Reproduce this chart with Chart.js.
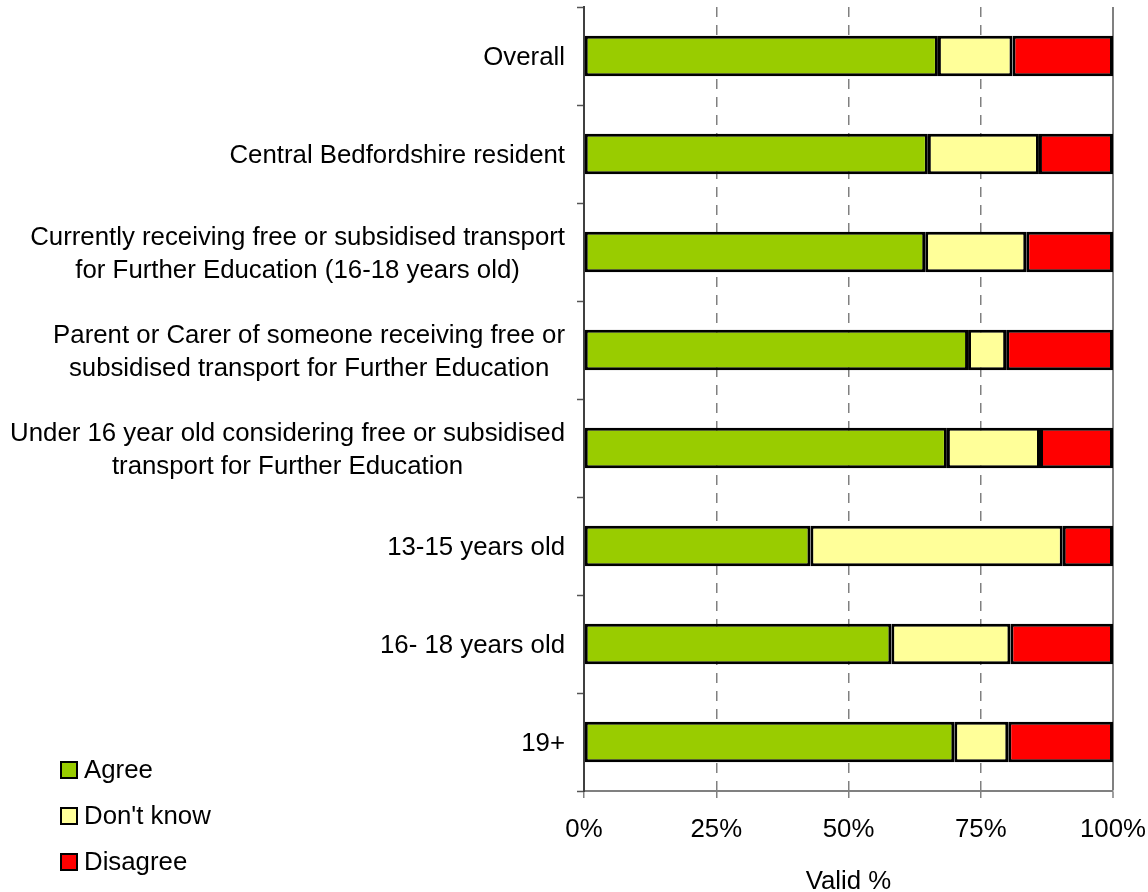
<!DOCTYPE html>
<html>
<head>
<meta charset="utf-8">
<title>Valid %</title>
<script src="https://cdn.jsdelivr.net/npm/chart.js@4/dist/chart.umd.min.js"></script>
<style>
  html, body { margin: 0; padding: 0; background: #fff; }
  #wrap { width: 1148px; height: 892px; }
</style>
</head>
<body>
<div id="wrap"><canvas id="chart" width="1148" height="892"></canvas></div>
<script>
const categories = [
  ["Overall"],
  ["Central Bedfordshire resident"],
  ["Currently receiving free or subsidised transport", "for Further Education (16-18 years old)"],
  ["Parent or Carer of someone receiving free or", "subsidised transport for Further Education"],
  ["Under 16 year old considering free or subsidised", "transport for Further Education"],
  ["13-15 years old"],
  ["16- 18 years old"],
  ["19+"]
];
const agree    = [66.9, 65.0, 64.5, 72.6, 68.6, 42.8, 58.1, 70.0];
const dontKnow = [14.1, 21.0, 19.1,  7.2, 17.6, 47.7, 22.5, 10.2];
const disagree = [19.0, 14.0, 16.4, 20.2, 13.8,  9.5, 19.4, 19.8];
const xTicks = [0, 25, 50, 75, 100];

const FONT = "'Liberation Sans', Arial, sans-serif";
const FONT_SIZE = 25.8;

// category labels: single lines right aligned, wrapped lines centred in their block
const catLabels = {
  id: "catLabels",
  afterDraw(chart) {
    const ctx = chart.ctx;
    const y = chart.scales.y;
    const right = 565;
    const lh = 33;
    ctx.save();
    ctx.font = FONT_SIZE + "px " + FONT;
    ctx.fillStyle = "#000";
    ctx.textBaseline = "middle";
    ctx.textAlign = "center";
    categories.forEach((lines, i) => {
      const cy = y.getPixelForValue(i) + 2;
      const w = Math.max(...lines.map((l) => ctx.measureText(l).width));
      const top = cy - ((lines.length - 1) * lh) / 2;
      lines.forEach((l, k) => ctx.fillText(l, right - w / 2, top + k * lh));
    });
    ctx.restore();
  },
};

const sideLegend = {
  id: "sideLegend",
  afterDraw(chart) {
    const ctx = chart.ctx;
    ctx.save();
    ctx.font = FONT_SIZE + "px " + FONT;
    ctx.textBaseline = "middle";
    ctx.textAlign = "left";
    chart.data.datasets.forEach((ds, i) => {
      const cy = 770 + i * 46;
      ctx.fillStyle = ds.backgroundColor;
      ctx.fillRect(61, cy - 8, 16, 16);
      ctx.lineWidth = 2;
      ctx.strokeStyle = "#000";
      ctx.strokeRect(61, cy - 8, 16, 16);
      ctx.fillStyle = "#000";
      ctx.fillText(ds.label, 84, cy + 1);
    });
    ctx.restore();
  },
};

const bar = (label, data, color) => ({
  label,
  data,
  backgroundColor: color,
  borderColor: "#000",
  borderWidth: 3,
  borderSkipped: false,
  categoryPercentage: 1,
  barPercentage: 0.415,
});

new Chart(document.getElementById("chart"), {
  type: "bar",
  data: {
    labels: categories,
    datasets: [
      bar("Agree", agree, "#99cc00"),
      bar("Don't know", dontKnow, "#ffff99"),
      bar("Disagree", disagree, "#ff0000"),
    ],
  },
  options: {
    indexAxis: "y",
    responsive: false,
    animation: false,
    devicePixelRatio: 1,
    layout: { padding: { top: 7, right: 35, left: 0, bottom: 0 } },
    plugins: {
      legend: { display: false },
      tooltip: { enabled: false },
    },
    scales: {
      x: {
        stacked: true,
        min: 0,
        max: 100,
        afterBuildTicks: (scale) => {
          scale.ticks = xTicks.map((v) => ({ value: v }));
        },
        afterFit: (scale) => {
          scale.height = 101;
          scale.paddingLeft = 0;
          scale.paddingRight = 0;
        },
        ticks: {
          color: "#000",
          padding: 16,
          font: { family: FONT, size: FONT_SIZE },
          callback: (v) => v + "%",
        },
        grid: {
          color: "#808080",
          lineWidth: (c) => (c.tick && c.tick.value === 100 ? 2 : 1.5),
          tickLength: 7,
          tickColor: "#808080",
          tickWidth: 1.5,
        },
        border: {
          display: true,
          color: "#808080",
          width: 2,
          dash: (c) =>
            c.tick && c.tick.value > 0 && c.tick.value < 100 ? [10, 8] : [],
        },
        title: {
          display: true,
          text: "Valid %",
          color: "#000",
          padding: { top: 0, bottom: -5 },
          font: { family: FONT, size: FONT_SIZE },
        },
      },
      y: {
        stacked: true,
        afterFit: (scale) => {
          scale.width = 584;
        },
        ticks: { display: false },
        grid: {
          offset: true,
          drawOnChartArea: false,
          tickLength: 7,
          tickColor: "#555",
          tickWidth: 1.5,
        },
        border: { display: true, color: "#404040", width: 2 },
      },
    },
  },
  plugins: [catLabels, sideLegend],
});
</script>
</body>
</html>
